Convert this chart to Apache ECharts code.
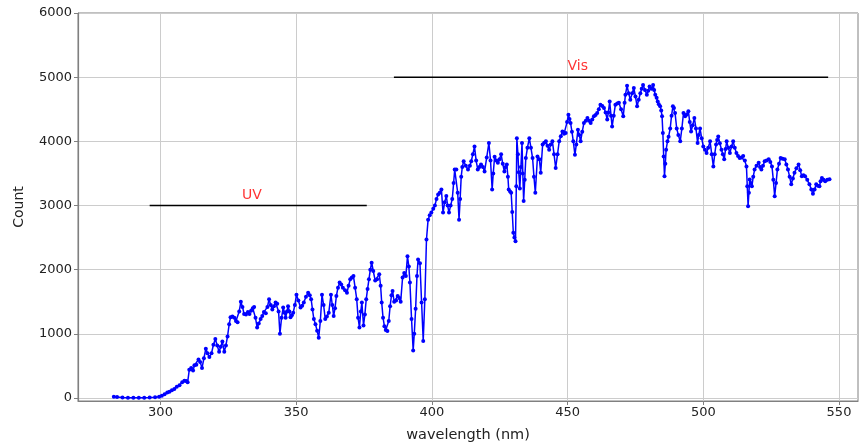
<!DOCTYPE html>
<html>
<head>
<meta charset="utf-8">
<script src="https://cdn.jsdelivr.net/npm/echarts@6/dist/echarts.min.js"></script>
<style>
  html, body { margin: 0; padding: 0; background: #fff; }
  #chart { width: 861px; height: 448px; }
</style>
</head>
<body>
<div id="chart"></div>
<script>
// spectrum (nm / count)
const wavelength = [
  282.8, 284, 286, 288, 290, 292, 294, 296, 298, 299.5, 300.5, 301.5, 302.5, 303.3, 304.2, 305.1, 306, 307, 308, 308.8, 309.5, 310,
  310.6, 311.3, 312, 312.5, 313.2, 314, 314.6, 315.3, 316, 316.7, 317.3, 318, 318.8, 319.5, 320.2, 320.9, 321.6, 322.2, 322.8, 323.5,
  324.1, 324.7, 325.3, 325.8, 326.5, 327.2, 327.8, 328.4, 329, 329.6, 330.2, 330.8, 331.5, 332.2, 332.8, 333.4, 334, 334.5, 335,
  335.6, 336.2, 336.9, 337.5, 338.1, 338.8, 339.4, 340, 340.6, 341.2, 341.8, 342.4, 343, 343.5, 344, 344.6, 345.2, 345.7, 346.1,
  346.6, 347, 347.5, 347.9, 348.4, 348.9, 349.5, 350.1, 350.8, 351.6, 352.2, 352.8, 353.6, 354.4, 355, 355.5, 356, 356.5, 357.1,
  357.7, 358.3, 358.9, 359.5, 360.1, 360.7, 361.3, 362, 362.8, 363.3, 363.8, 364.3, 364.8, 365.4, 366, 366.6, 367.2, 368, 368.7,
  369.3, 369.9, 370.5, 371.1, 371.7, 372.3, 372.8, 373.3, 373.8, 374.2, 374.8, 375.3, 375.8, 376.3, 376.8, 377.3, 377.8, 378.4,
  379.1, 379.8, 380.6, 381.1, 381.5, 382, 382.5, 383, 383.6, 384.1, 384.6, 385.1, 385.5, 386.1, 386.8, 387.4, 388, 388.5, 389.2,
  389.8, 390.4, 391, 391.5, 391.9, 392.5, 393.1, 393.5, 394, 394.5, 394.9, 395.6, 396.2, 396.8, 397.4, 398, 398.6, 399.2, 399.8,
  400.5, 401.1, 401.7, 402.3, 402.9, 403.5, 404.1, 404.7, 405.3, 405.8, 406.3, 406.9, 407.5, 408, 408.4, 409, 409.5, 410, 410.4,
  410.8, 411.2, 411.7, 412.5, 413.3, 414, 414.5, 415.1, 415.7, 416.3, 416.9, 417.5, 418.1, 418.8, 419.4, 420.2, 421, 421.6, 422.2,
  422.6, 423.1, 423.7, 424.3, 424.9, 425.5, 426.1, 426.7, 427.2, 427.6, 428, 428.3, 428.8, 429.2, 429.6, 430, 430.4, 430.8, 431.1,
  431.3, 431.7, 432, 432.4, 432.8, 433.2, 433.5, 433.8, 434.2, 434.6, 435.2, 435.9, 436.5, 437.1, 437.6, 438.1, 438.9, 439.6, 440.1,
  440.8, 441.4, 442, 442.6, 443.2, 443.8, 444.4, 445, 445.6, 446.3, 446.9, 447.5, 448.1, 448.7, 449.3, 449.8, 450.3, 450.7, 451.1,
  451.6, 452.1, 452.7, 453.2, 453.8, 454.3, 454.8, 455.4, 456, 456.7, 457.3, 457.9, 458.5, 459.1, 459.7, 460.3, 460.9, 461.5, 462.1,
  462.8, 463.4, 464, 464.6, 465, 465.5, 466, 466.4, 467, 467.6, 468.3, 468.9, 469.7, 470.5, 471, 471.3, 471.9, 472.5, 473.1, 473.8,
  474.4, 475, 475.6, 476.2, 476.8, 477.3, 477.8, 478.5, 479.2, 479.7, 480.2, 480.9, 481.5, 481.9, 482.3, 482.8, 483.2, 483.6, 484.1,
  484.5, 484.8, 485.1, 485.4, 485.7, 486, 486.3, 486.8, 487.2, 487.8, 488.3, 488.8, 489.2, 489.6, 490.2, 490.8, 491.5, 492.1, 492.7,
  493.3, 493.9, 494.5, 495, 495.5, 496.1, 496.7, 497.3, 497.9, 498.3, 498.8, 499.4, 500, 500.6, 501.2, 501.8, 502.5, 503.1, 503.7,
  504.2, 504.7, 505.1, 505.5, 506.1, 506.7, 507.2, 507.7, 508.2, 508.6, 509.2, 509.8, 510.4, 511, 511.6, 512.2, 512.8, 513.4, 514,
  514.7, 515.3, 515.9, 516.2, 516.5, 516.8, 517.1, 517.5, 517.9, 518.4, 518.9, 519.6, 520.4, 520.9, 521.4, 522, 522.6, 523.3, 524.1,
  524.7, 525.3, 525.8, 526.3, 526.8, 527.3, 527.9, 528.5, 529.2, 530, 530.6, 531.2, 531.8, 532.4, 533, 533.6, 534.3, 535.1, 535.7,
  536.3, 536.9, 537.5, 538.3, 539.1, 539.8, 540.4, 541, 541.6, 542.2, 542.8, 543.2, 543.7, 544.3, 544.9, 545.7, 546.5
];
const counts = [
  20, 15, 8, 5, 3, 3, 5, 8, 12, 20, 35, 60, 85, 100, 120, 140, 175, 200, 245, 270, 265, 245,
  440, 470, 430, 510, 520, 600, 560, 470, 620, 770, 700, 640, 700, 830, 920, 820, 720, 800, 880, 720,
  820, 960, 1150, 1260, 1270, 1250, 1200, 1180, 1350, 1500, 1420, 1310, 1300, 1340, 1310, 1360, 1400, 1420, 1250,
  1100, 1160, 1230, 1280, 1340, 1320, 1420, 1540, 1450, 1380, 1430, 1490, 1470, 1350, 1000, 1250, 1410, 1330, 1250,
  1350, 1430, 1350, 1260, 1290, 1330, 1450, 1610, 1520, 1410, 1440, 1490, 1580, 1640, 1600, 1540, 1380, 1230, 1150,
  1050, 940, 1200, 1610, 1450, 1230, 1270, 1330, 1610, 1450, 1280, 1400, 1590, 1720, 1800, 1770, 1720, 1680, 1640,
  1750, 1850, 1880, 1900, 1720, 1540, 1250, 1100, 1350, 1490, 1130, 1300, 1540, 1700, 1850, 2000, 2110, 1980,
  1830, 1850, 1930, 1750, 1490, 1250, 1120, 1060, 1045, 1200, 1430, 1600, 1670, 1500, 1520, 1590, 1560, 1500, 1880,
  1950, 1900, 2210, 2050, 1800, 1230, 740, 1000, 1390, 1900, 2160, 2100, 1490, 890, 1540, 2470, 2780, 2850, 2890,
  2950, 3000, 3100, 3170, 3200, 3250, 2890, 3050, 3150, 3000, 2890, 3000, 3100, 3350, 3560, 3560, 3200, 2780, 3100,
  3450, 3600, 3690, 3620, 3560, 3620, 3690, 3800, 3920, 3700, 3560, 3600, 3640, 3600, 3530, 3750, 3975, 3700, 3250,
  3500, 3760, 3700, 3665, 3720, 3800, 3650, 3530, 3600, 3640, 3450, 3250, 3220, 3200, 2900, 2575, 2500, 2445, 3300,
  4050, 3800, 3520, 3265, 3600, 3975, 3500, 3070, 3400, 3740, 3900, 4050, 3900, 3740, 3450, 3200, 3765, 3720, 3510,
  3950, 3980, 4000, 3930, 3870, 3950, 4000, 3800, 3585, 3800, 4000, 4080, 4155, 4120, 4130, 4300, 4415, 4350, 4285,
  4150, 4000, 3790, 3950, 4180, 4100, 4000, 4150, 4285, 4320, 4365, 4320, 4285, 4340, 4390, 4410, 4440, 4500, 4570,
  4550, 4520, 4450, 4340, 4450, 4620, 4400, 4230, 4400, 4570, 4590, 4600, 4500, 4390, 4600, 4725, 4865, 4750, 4650, 4750,
  4830, 4700, 4545, 4650, 4750, 4820, 4880, 4800, 4725, 4790, 4855, 4820, 4880, 4800, 4725, 4680, 4620, 4580, 4545,
  4480, 4390, 4130, 3765, 3455, 3650, 3870, 4000, 4070, 4200, 4400, 4545, 4520, 4440, 4200, 4100, 4000, 4200, 4440,
  4390, 4420, 4470, 4300, 4155, 4250, 4365, 4200, 3975, 4100, 4200, 4050, 3920, 3870, 3820, 3900, 4000, 3800, 3610,
  3800, 3950, 4020, 4075, 3970, 3870, 3800, 3720, 3880, 4000, 3900, 3820, 3920, 4000, 3900, 3820, 3770, 3740, 3750,
  3770, 3700, 3610, 3300, 2990, 3200, 3405, 3350, 3300, 3450, 3560, 3620, 3665, 3600, 3560, 3620, 3690, 3700, 3720,
  3680, 3610, 3400, 3145, 3350, 3560, 3650, 3740, 3730, 3720, 3640, 3560, 3450, 3330, 3420, 3510, 3580, 3640, 3550,
  3455, 3470, 3455, 3400, 3330, 3250, 3185, 3250, 3330, 3310, 3300, 3380, 3430, 3400, 3380, 3400, 3410
];

// band markers
const uvBand = [296, 376];
const uvLevel = 3000;
const visBand = [386, 546];
const visLevel = 5000;
const bandNames = ['UV', 'Vis'];
const bandNameX = [330, 450];
const bandNameY = [3100, 5100];

const xTicks = [300, 350, 400, 450, 500, 550];
const yTicks = [0, 1000, 2000, 3000, 4000, 5000, 6000];

const font = 'DejaVu Sans';
const spineColor = '#808080';

const chart = echarts.init(document.getElementById('chart'));

const spectrum = wavelength.map((w, i) => [w, counts[i]]);
const names = bandNames.map((n, i) => [bandNameX[i], bandNameY[i], n]);

const option = {
  animation: false,
  backgroundColor: '#ffffff',
  grid: {
    left: 78, right: 3, top: 13, bottom: 46,
    containLabel: false,
    show: true, borderColor: spineColor, borderWidth: 1
  },
  xAxis: {
    type: 'value',
    min: 269.6,
    max: 557,
    splitNumber: 6,
    name: 'wavelength (nm)',
    nameLocation: 'middle',
    nameGap: 27,
    nameTextStyle: { fontFamily: font, fontSize: 14.5, color: '#222' },
    axisLine: { show: true, onZero: false, lineStyle: { color: spineColor, width: 1.2 } },
    axisTick: { show: true, length: 4, lineStyle: { color: spineColor },
      customValues: xTicks },
    axisLabel: {
      fontFamily: font, fontSize: 13, color: '#222', margin: 5,
      customValues: xTicks,
      formatter: v => (xTicks.indexOf(v) >= 0 ? String(v) : '')
    },
    splitLine: { show: true, lineStyle: { color: '#cccccc', width: 1 } }
  },
  yAxis: {
    type: 'value',
    min: -46,
    max: 6000,
    splitNumber: 6,
    name: 'Count',
    nameLocation: 'middle',
    nameGap: 52,
    nameTextStyle: { fontFamily: font, fontSize: 14, color: '#222' },
    axisLine: { show: true, onZero: false, lineStyle: { color: spineColor, width: 1.2 } },
    axisTick: { show: true, length: 4, lineStyle: { color: spineColor },
      customValues: yTicks },
    axisLabel: {
      fontFamily: font, fontSize: 13, color: '#222', margin: 6,
      customValues: yTicks,
      formatter: v => (yTicks.indexOf(v) >= 0 ? String(v) : '')
    },
    splitLine: { show: true, lineStyle: { color: '#cccccc', width: 1 } }
  },
  series: [
    {
      name: 'spectrum',
      type: 'line',
      data: spectrum,
      color: '#0000ff',
      symbol: 'circle',
      symbolSize: 4,
      showSymbol: true,
      lineStyle: { color: '#0000ff', width: 1.5 },
      itemStyle: { color: '#0000ff' },
      z: 3
    },
    {
      name: 'UV band',
      type: 'line',
      data: [[uvBand[0], uvLevel], [uvBand[1], uvLevel]],
      symbol: 'none',
      lineStyle: { color: '#000000', width: 1.5 },
      z: 4
    },
    {
      name: 'Vis band',
      type: 'line',
      data: [[visBand[0], visLevel], [visBand[1], visLevel]],
      symbol: 'none',
      lineStyle: { color: '#000000', width: 1.5 },
      z: 4
    },
    {
      name: 'band names',
      type: 'scatter',
      data: names,
      symbolSize: 0,
      label: {
        show: true,
        position: [0, 0],
        offset: [0, 3],
        align: 'left',
        verticalAlign: 'bottom',
        formatter: p => p.value[2],
        fontFamily: font,
        fontSize: 14,
        color: '#ff0000'
      },
      z: 5
    }
  ]
};

chart.setOption(option);
</script>
</body>
</html>
